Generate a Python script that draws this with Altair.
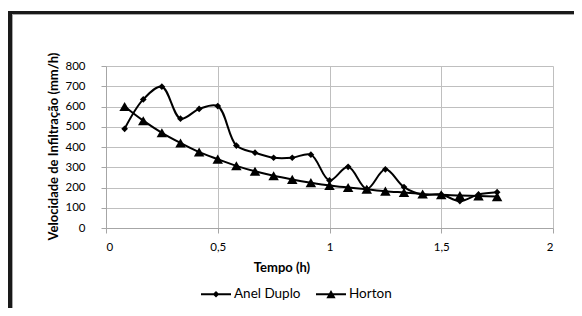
import altair as alt
import pandas as pd

# Data
tempo = [0.0833, 0.1667, 0.25, 0.3333, 0.4167, 0.5, 0.5833, 0.6667, 0.75, 0.8333,
         0.9167, 1.0, 1.0833, 1.1667, 1.25, 1.3333, 1.4167, 1.5, 1.5833, 1.6667, 1.75]
anel_duplo = [490, 635, 698, 540, 588, 602, 407, 372, 347, 347,
              362, 235, 302, 193, 290, 202, 165, 165, 133, 166, 177]
horton = [600, 530, 470, 420, 375, 340, 307, 280, 258, 240,
          224, 210, 200, 191, 182, 175, 168, 164, 160, 158, 155]
series_names = ["Anel Duplo", "Horton"]
x_ticks = [0, 0.5, 1, 1.5, 2]
y_ticks = [0, 100, 200, 300, 400, 500, 600, 700, 800]

df = pd.DataFrame({
    "t": tempo + tempo,
    "v": anel_duplo + horton,
    "serie": [series_names[0]] * len(tempo) + [series_names[1]] * len(tempo),
})

FONT = "Lato"
W, H = 447, 162

x = alt.X("t:Q", scale=alt.Scale(domain=[0, 2], nice=False),
          axis=alt.Axis(values=x_ticks, title="Tempo (h)",
                        labelExpr="replace(format(datum.value, ''), '.', ',')",
                        titleX=175.5, titleY=39, titleAlign="center",
                        titleBaseline="middle", labelPadding=8))
y = alt.Y("v:Q", scale=alt.Scale(domain=[0, 800], nice=False),
          axis=alt.Axis(values=y_ticks, title="Velocidade de Infiltração (mm/h)",
                        titleX=-52.5, titleY=80, titleAlign="center",
                        titleBaseline="middle", labelPadding=16))

base = alt.Chart(df)

lines = base.mark_line(interpolate="catmull-rom", color="black", strokeWidth=2).encode(
    x=x, y=y, detail="serie:N")

pts_anel = base.mark_point(shape="diamond", filled=True, size=45, color="black", opacity=1).encode(
    x=x, y=y).transform_filter(alt.datum.serie == series_names[0])

pts_horton = base.mark_point(shape="triangle-up", filled=True, size=110, color="black", opacity=1).encode(
    x=x, y=y).transform_filter(alt.datum.serie == series_names[1])

# legend symbols: a short line with the series marker on it
legend_layer = base.mark_point(filled=True, color="black", opacity=1).encode(
    x=x, y=y,
    shape=alt.Shape("serie:N",
                    scale=alt.Scale(domain=series_names,
                                    range=["M-1,-0.065H1V0.065H-1ZM0,-0.22L0.22,0L0,0.22L-0.22,0Z",
                                           "M-1,-0.065H1V0.065H-1ZM0,-0.29L0.31,0.27L-0.31,0.27Z"]),
                    legend=alt.Legend(orient="none", legendX=95, legendY=213,
                                      direction="horizontal", title=None,
                                      symbolSize=900, symbolStrokeWidth=0,
                                      symbolFillColor="black", symbolOpacity=1,
                                      labelFont=FONT, labelFontSize=13.5, labelColor="black",
                                      labelOffset=3, columnPadding=15, padding=0)),
).transform_filter("false")

# chart frame (border lines of the original figure)
frame_black_top = alt.Chart(df).mark_rule(color="#1a1a1a", strokeWidth=3).encode(
    x=alt.value(-98), x2=alt.value(470), y=alt.value(-53.5))
frame_black_left = alt.Chart(df).mark_rule(color="#1a1a1a", strokeWidth=3.5).encode(
    x=alt.value(-96.3), y=alt.value(-55), y2=alt.value(250))
frame_gray_top = alt.Chart(df).mark_rule(color="#a8a8a8", strokeWidth=1).encode(
    x=alt.value(-94), x2=alt.value(470), y=alt.value(-51.5))
frame_gray_left = alt.Chart(df).mark_rule(color="#a8a8a8", strokeWidth=1).encode(
    x=alt.value(-93.5), y=alt.value(-51.5), y2=alt.value(250))

chart = alt.layer(
    lines, pts_anel, pts_horton, legend_layer,
    frame_black_top, frame_black_left, frame_gray_top, frame_gray_left,
).properties(
    width=W, height=H,
    autosize=alt.AutoSizeParams(type="none"),
    padding={"left": 98, "top": 58, "right": 21, "bottom": 80},
    background="white",
).configure_view(strokeWidth=0).configure_axis(
    gridColor="#bfbfbf", gridWidth=1,
    domainColor="#a6a6a6", tickColor="#a6a6a6", tickSize=5,
    labelFont=FONT, labelFontSize=11.5, labelColor="black",
    titleFont=FONT, titleFontSize=13, titleFontWeight="bold", titleColor="black",
)

chart.save("out.html", embed_options={"renderer": "svg", "actions": False})
